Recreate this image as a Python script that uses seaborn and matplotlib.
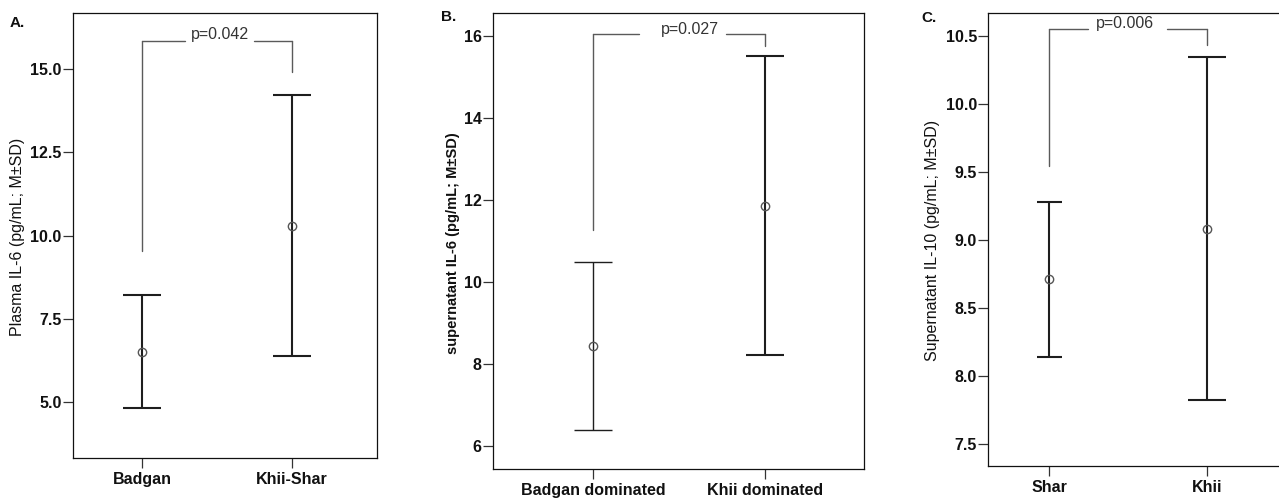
import matplotlib
matplotlib.use("Agg")
import matplotlib.pyplot as plt
import seaborn as sns
import numpy as np

sns.set_style("white")
plt.rcParams['font.family'] = ['Liberation Sans', 'DejaVu Sans']

# ---------------- data ----------------
a_groups = ["Badgan", "Khii-Shar"]
a_mean = [6.52, 10.30]
a_sd = [1.70, 3.92]
a_ticks = [5.0, 7.5, 10.0, 12.5, 15.0]
a_ticklabels = ["5.0", "7.5", "10.0", "12.5", "15.0"]
a_ylabel = "Plasma IL-6 (pg/mL; M±SD)"
a_p = "p=0.042"
a_bracket = [15.83, 9.55, 14.91]      # top, left-leg end, right-leg end

b_groups = ["Badgan dominated", "Khii dominated"]
b_mean = [8.445, 11.86]
b_sd = [2.045, 3.65]
b_ticks = [6, 8, 10, 12, 14, 16]
b_ticklabels = ["6", "8", "10", "12", "14", "16"]
b_ylabel = "supernatant IL-6 (pg/mL; M±SD)"
b_p = "p=0.027"
b_bracket = [16.04, 11.26, 15.75]

c_groups = ["Shar", "Khii"]
c_mean = [8.71, 9.08]
c_sd = [0.57, 1.26]
c_ticks = [7.5, 8.0, 8.5, 9.0, 9.5, 10.0, 10.5]
c_ticklabels = ["7.5", "8.0", "8.5", "9.0", "9.5", "10.0", "10.5"]
c_ylabel = "Supernatant IL-10 (pg/mL; M±SD)"
c_p = "p=0.006"
c_bracket = [10.547, 9.54, 10.43]

# ---------------- layout / style ----------------
W, H = 1279, 499
panels = [
    dict(groups=a_groups, mean=a_mean, sd=a_sd, ticks=a_ticks, ticklabels=a_ticklabels,
         ylabel=a_ylabel, p=a_p, bracket=a_bracket, letter="A.",
         box=(72.7, 13.3, 376.7, 458.3), ylim=(3.32, 16.67), xlim=(-0.466, 1.569),
         caps=[13.5, 13.5], lws=[1.5, 1.5], gap=(0.286, 0.748), tx=0.52, ty=16.03,
         ylab_xy=(18, 237), ylab_w="normal", ylab_fs=11.5, letter_xy=(10, 23), right=True),
    dict(groups=b_groups, mean=b_mean, sd=b_sd, ticks=b_ticks, ticklabels=b_ticklabels,
         ylabel=b_ylabel, p=b_p, bracket=b_bracket, letter="B.",
         box=(492.7, 13.3, 864.3, 469.0), ylim=(5.44, 16.55), xlim=(-0.586, 1.578),
         caps=[14, 14], lws=[1.0, 1.5], gap=(0.266, 0.774), tx=0.56, ty=16.16,
         ylab_xy=(453, 243), ylab_w="bold", ylab_fs=10.5, letter_xy=(441, 17), right=True),
    dict(groups=c_groups, mean=c_mean, sd=c_sd, ticks=c_ticks, ticklabels=c_ticklabels,
         ylabel=c_ylabel, p=c_p, bracket=c_bracket, letter="C.",
         box=(988.3, 13.3, 1279.0, 466.0), ylim=(7.336, 10.665), xlim=(-0.388, 1.46),
         caps=[9, 13.5], lws=[1.5, 1.5], gap=(0.246, 0.748), tx=0.48, ty=10.59,
         ylab_xy=(933, 240), ylab_w="normal", ylab_fs=11.5, letter_xy=(921.7, 18), right=False),
]

fig = plt.figure(figsize=(W / 100, H / 100), dpi=100)
fig.patch.set_facecolor("white")

bar_col = "#1e1e1e"
brk_col = "#5a5a5a"

for P in panels:
    x0, y0, x1, y1 = P["box"]
    ax = fig.add_axes([x0 / W, 1 - y1 / H, (x1 - x0) / W, (y1 - y0) / H])
    sns.pointplot(x=P["groups"], y=P["mean"], errorbar=None, linestyle="none",
                  markers="o", color="#555555", markerfacecolor="none",
                  markeredgewidth=1.0, markersize=6, ax=ax, zorder=5)
    xs = np.arange(len(P["groups"]))
    for i in range(len(xs)):
        ax.errorbar(xs[i], P["mean"][i], yerr=P["sd"][i], fmt="none",
                    ecolor=bar_col, elinewidth=P["lws"][i], capsize=P["caps"][i],
                    capthick=P["lws"][i], zorder=3)
    top, lend, rend = P["bracket"]
    ax.plot([xs[0], xs[0]], [lend, top], color=brk_col, lw=1.0)
    ax.plot([xs[1], xs[1]], [rend, top], color=brk_col, lw=1.0)
    ax.plot([xs[0], P["gap"][0]], [top, top], color=brk_col, lw=1.0)
    ax.plot([P["gap"][1], xs[1]], [top, top], color=brk_col, lw=1.0)
    ax.text(P["tx"], P["ty"], P["p"], ha="center", va="center", fontsize=11.5, color="#333333")

    ax.set_xlim(*P["xlim"])
    ax.set_ylim(*P["ylim"])
    ax.set_yticks(P["ticks"])
    ax.set_yticklabels(P["ticklabels"])
    ax.set_xlabel("")
    ax.set_ylabel("")
    ax.tick_params(axis="both", direction="out", left=True, bottom=True,
                   length=7, width=0.9, color="#333333", labelsize=11.5, labelcolor="#111111")
    ax.tick_params(axis="y", pad=1)
    ax.tick_params(axis="x", pad=3)
    for lbl in ax.get_xticklabels() + ax.get_yticklabels():
        lbl.set_fontweight("bold")
    for name, sp in ax.spines.items():
        sp.set_color("#111111")
        sp.set_linewidth(0.9)
    ax.spines["right"].set_visible(P["right"])
    ax.grid(False)

    fig.text(P["ylab_xy"][0] / W, 1 - P["ylab_xy"][1] / H, P["ylabel"], rotation=90,
             ha="center", va="center", fontsize=P["ylab_fs"], fontweight=P["ylab_w"],
             color="#111111")
    fig.text(P["letter_xy"][0] / W, 1 - P["letter_xy"][1] / H, P["letter"],
             ha="left", va="center", fontsize=11, fontweight="bold", color="#111111")

fig.savefig("out.png", dpi=100, facecolor="white")
